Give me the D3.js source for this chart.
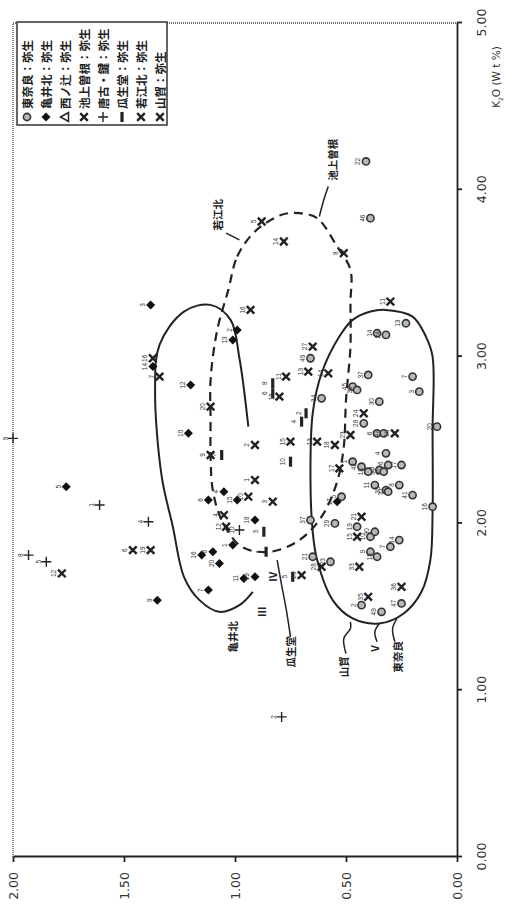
<!DOCTYPE html>
<html>
<head>
<meta charset="utf-8">
<script src="https://cdn.jsdelivr.net/npm/d3@7"></script>
<style>
  body { margin: 0; background: #fff; }
  .axis text { font-family: "DejaVu Sans", Verdana, sans-serif; font-size: 12.5px; fill: #333; }
  .axis path, .axis line { stroke: #222; stroke-width: 1.8; }
  .ptlabel { font-family: "Liberation Sans", Arial, sans-serif; font-size: 6.5px; fill: #333; }
  .area { font-family: "Noto Sans CJK JP", sans-serif; font-size: 10.5px; font-weight: bold; fill: #222; }
  .legend text { font-family: "Noto Sans CJK JP", sans-serif; font-size: 11.5px; font-weight: bold; fill: #222; }
</style>
</head>
<body>
<div id="chart"></div>
<script>
// chart is drawn in its own frame (K2O across, other oxide up) and turned 90deg
const width = 515;
const height = 906;

const kTicks = [0, 1, 2, 3, 4, 5];
const vTicks = [0, 0.5, 1, 1.5, 2];

// [K2O, value, label]
const higashinara = [
  [4.17,0.41,'22'],[3.83,0.39,'46'],[3.20,0.23,'13'],[3.14,0.36,'14'],[3.13,0.32,'24'],
  [2.99,0.66,'49'],[2.89,0.40,'37'],[2.88,0.20,'7'],[2.82,0.47,'45'],[2.80,0.45,'36'],
  [2.79,0.17,'3'],[2.75,0.61,'34'],[2.73,0.35,'30'],[2.60,0.42,'28'],[2.54,0.36,'6'],
  [2.54,0.33,'12'],[2.58,0.09,'20'],[2.37,0.47,'1'],[2.42,0.32,'4'],[2.35,0.31,'26'],
  [2.32,0.35,'43'],[2.31,0.33,'22'],[2.35,0.25,'17'],[2.34,0.43,'42'],[2.31,0.40,'18'],
  [2.23,0.37,'11'],[2.20,0.32,'35'],[2.19,0.31,'31'],[2.23,0.26,'8'],[2.17,0.20,'41'],
  [2.10,0.11,'16'],[2.16,0.52,'5'],[2.02,0.66,'37'],[2.00,0.55,'29'],[1.98,0.45,'19'],
  [1.92,0.39,'10'],[1.95,0.37,'30'],[1.90,0.26,'14'],[1.86,0.30,'7'],[1.83,0.39,'9'],
  [1.80,0.36,'15'],[1.80,0.65,'21'],[1.77,0.57,'23'],[1.51,0.43,'2'],[1.52,0.25,'47'],
  [1.47,0.34,'49']
];
const kameikita = [
  [3.31,1.38,'3'],[2.94,1.37,'14'],[3.16,0.99,'2'],[3.10,1.01,'13'],[2.83,1.20,'12'],
  [2.54,1.21,'10'],[2.22,1.76,'5'],[2.19,1.05,'4'],[2.14,1.12,'6'],[2.14,0.99,'15'],
  [2.02,0.91,'18'],[1.87,1.01,'1'],[1.81,1.15,'16'],[1.83,1.10,'8'],[1.76,1.07,'20'],
  [1.67,0.96,'11'],[1.68,0.91,'19'],[1.60,1.12,'7'],[1.54,1.35,'9'],[2.13,0.54,'17']
];
const nishinotsuji = [];
const ikegamisone = [
  [3.81,0.88,'5'],[3.69,0.78,'14'],[3.62,0.51,'8'],[3.33,0.30,'11'],[1.84,1.46,'6'],
  [1.84,1.38,'19'],[1.70,1.78,'12'],[2.99,1.37,'16'],[2.88,1.34,'7'],[3.28,0.93,'16']
];
const karakokagi = [
  [2.51,2.00,'9'],[2.11,1.61,'1'],[2.01,1.39,'4'],[1.81,1.93,'8'],[1.77,1.85,'5'],
  [0.84,0.79,'2'],[1.96,0.98,'10']
];
const uryudo = [
  [2.41,1.06,'7'],[2.37,0.75,'10'],[2.84,0.83,'8'],[2.78,0.83,'6'],[2.61,0.70,'4'],
  [2.66,0.68,'2'],[1.95,0.87,'3'],[1.83,0.86,'1'],[1.68,0.74,'5']
];
const wakaekita = [
  [2.70,1.11,'20'],[2.47,0.91,'2'],[2.49,0.75,'15'],[2.49,0.63,'13'],[2.41,1.11,'9'],
  [2.26,0.91,'1'],[2.16,0.94,'10'],[2.13,0.83,'3'],[2.05,1.05,'4'],[1.98,1.04,'12'],
  [2.88,0.77,'11'],[2.76,0.80,'15'],[2.91,0.67,'13'],[2.90,0.58,'14'],[3.06,0.65,'27']
];
const yamaga = [
  [2.66,0.42,'24'],[2.53,0.48,'23'],[2.54,0.28,'18'],[2.47,0.55,'18'],[2.33,0.53,'17'],
  [2.04,0.43,'21'],[1.92,0.45,'15'],[1.74,0.44,'33'],[1.56,0.40,'35'],[1.62,0.25,'36'],
  [1.74,0.61,'28'],[1.69,0.70,'20']
];

// outlines [K2O, value]
const kameiCurve = [
  [2.58,0.94],[2.99,0.98],[3.22,1.02],[3.31,1.11],[3.27,1.23],[3.07,1.34],[2.80,1.36],
  [2.28,1.33],[1.98,1.28],[1.68,1.23],[1.54,1.16],[1.47,1.07],[1.51,0.98],[1.59,0.92]
];
const wakaeLoop = [
  [3.40,1.03],[3.60,0.99],[3.75,0.91],[3.85,0.79],[3.86,0.71],[3.83,0.63],[3.66,0.54],
  [3.52,0.48],[3.32,0.48],[3.06,0.48],[2.74,0.50],[2.46,0.51],[2.25,0.54],[2.04,0.61],
  [1.90,0.71],[1.83,0.84],[1.86,0.97],[2.02,1.06],[2.20,1.10],[2.41,1.11],[2.62,1.11],
  [2.86,1.11],[3.16,1.08]
];
const eastLoop = [
  [2.90,0.61],[3.12,0.53],[3.22,0.47],[3.27,0.39],[3.28,0.32],[3.24,0.20],[3.12,0.14],
  [3.00,0.11],[2.56,0.11],[2.07,0.11],[1.78,0.12],[1.59,0.16],[1.46,0.24],[1.40,0.35],
  [1.43,0.47],[1.54,0.56],[1.78,0.63],[1.95,0.65],[2.26,0.66],[2.66,0.65]
];
const leaders = [
  [[1.32,0.75],[1.49,0.77],[1.63,0.79],[1.78,0.81]],
  [[1.22,0.50],[1.31,0.51],[1.37,0.48],[1.41,0.48]],
  [[1.29,0.36],[1.35,0.37],[1.40,0.35]],
  [[1.29,0.28],[1.37,0.29],[1.43,0.27]],
  [[3.74,1.04],[3.70,0.98]],
  [[4.02,0.58],[3.94,0.60],[3.84,0.62]]
];
const areaNames = ['亀井北', '瓜生堂', '山賀', 'V', '東奈良', '若江北', '池上曽根', 'III', 'IV'];
const areaAt = [[1.32,1.01],[1.23,0.75],[1.14,0.51],[1.25,0.37],[1.20,0.27],[3.85,1.08],[4.18,0.56],[1.47,0.88],[1.68,0.83]];

const series = [
  {name: '東奈良：弥生', type: 'circle', data: higashinara},
  {name: '亀井北：弥生', type: 'diamond', data: kameikita},
  {name: '西ノ辻：弥生', type: 'triangle', data: nishinotsuji},
  {name: '池上曽根：弥生', type: 'cross', data: ikegamisone},
  {name: '唐古・鍵：弥生', type: 'plus', data: karakokagi},
  {name: '瓜生堂：弥生', type: 'bar', data: uryudo},
  {name: '若江北：弥生', type: 'cross', data: wakaekita},
  {name: '山賀：弥生', type: 'cross', data: yamaga}
];

const svg = d3.select("#chart").append("svg")
    .attr("width", width)
    .attr("height", height);

const g = svg.append("g")
    .attr("transform", `translate(0,${height}) rotate(-90)`);

const x = d3.scaleLinear().domain([0, 5]).range([49, 883]);
const y = d3.scaleLinear().domain([0, 2]).range([457, 13]);

// dotted frame
g.append("path")
    .attr("d", `M${x(0)},${y(2)}H${x(5)}V${y(0)}`)
    .attr("fill", "none")
    .attr("stroke", "#444")
    .attr("stroke-width", 1.3)
    .attr("stroke-dasharray", "1,1");

g.append("g")
    .attr("class", "axis")
    .attr("transform", `translate(0,${y(0)})`)
    .call(d3.axisBottom(x).tickValues(kTicks).tickFormat(d3.format(".2f"))
      .tickSize(5).tickSizeOuter(0).tickPadding(15));

g.append("g")
    .attr("class", "axis")
    .attr("transform", `translate(${x(0)},0)`)
    .call(d3.axisLeft(y).tickValues(vTicks).tickFormat(d3.format(".2f"))
      .tickSize(5).tickSizeOuter(0).tickPadding(10));

const kLabel = g.append("text")
    .attr("x", 829)
    .attr("y", 500)
    .attr("text-anchor", "middle")
    .style("font-family", "'DejaVu Sans', sans-serif")
    .style("font-size", "10.5px")
    .style("fill", "#333");
kLabel.append("tspan").text("K");
kLabel.append("tspan").attr("dy", 3).style("font-size", "6px").text("2");
kLabel.append("tspan").attr("dy", -3).text("O (W t %)");

// outlines
const lineOpen = d3.line().x(d => x(d[0])).y(d => y(d[1])).curve(d3.curveCatmullRom);
const lineClosed = d3.line().x(d => x(d[0])).y(d => y(d[1])).curve(d3.curveCatmullRomClosed);

g.append("path").attr("d", lineOpen(kameiCurve))
    .attr("fill", "none").attr("stroke", "#222").attr("stroke-width", 2);
g.append("path").attr("d", lineClosed(eastLoop))
    .attr("fill", "none").attr("stroke", "#222").attr("stroke-width", 2);
g.append("path").attr("d", lineClosed(wakaeLoop))
    .attr("fill", "none").attr("stroke", "#222").attr("stroke-width", 2.2)
    .attr("stroke-dasharray", "9,6");

g.selectAll("path.leader")
    .data(leaders)
    .enter()
    .append("path")
    .attr("class", "leader")
    .attr("d", d => lineOpen(d))
    .attr("fill", "none")
    .attr("stroke", "#222")
    .attr("stroke-width", 1.5);

g.selectAll("text.area")
    .data(areaNames)
    .enter()
    .append("text")
    .attr("class", "area")
    .attr("x", (d, i) => x(areaAt[i][0]))
    .attr("y", (d, i) => y(areaAt[i][1]))
    .attr("text-anchor", "middle")
    .attr("dominant-baseline", "central")
    .text(d => d);

function drawSymbol(sel, type) {
  if (type === 'circle') {
    sel.append("circle").attr("r", 3.6)
      .attr("fill", "#b8b8b8").attr("stroke", "#333").attr("stroke-width", 1.6);
  } else if (type === 'diamond') {
    sel.append("path").attr("d", "M0,-4.5L4.5,0L0,4.5L-4.5,0Z").attr("fill", "#111");
  } else if (type === 'cross') {
    sel.append("path").attr("d", "M-3.8,-3.8L3.8,3.8M-3.8,3.8L3.8,-3.8")
      .attr("stroke", "#222").attr("stroke-width", 2.4);
  } else if (type === 'plus') {
    sel.append("path").attr("d", "M-5,0H5M0,-5V5")
      .attr("stroke", "#222").attr("stroke-width", 1.4);
  } else if (type === 'bar') {
    sel.append("rect").attr("x", -5).attr("y", -1.6).attr("width", 10).attr("height", 3.2)
      .attr("fill", "#222");
  } else if (type === 'triangle') {
    sel.append("path").attr("d", "M0,-4.5L4.5,3.5H-4.5Z")
      .attr("fill", "none").attr("stroke", "#222").attr("stroke-width", 1.5);
  }
}

// points
series.forEach(s => {
  const pts = g.selectAll(null)
      .data(s.data)
      .enter()
      .append("g")
      .attr("transform", d => `translate(${x(d[0])},${y(d[1])})`);
  pts.each(function() { drawSymbol(d3.select(this), s.type); });
  pts.append("text")
      .attr("class", "ptlabel")
      .attr("y", -8)
      .attr("text-anchor", "middle")
      .attr("dominant-baseline", "central")
      .text(d => d[2]);
});

// legend
const legend = g.append("g").attr("class", "legend");
legend.append("rect")
    .attr("x", 781).attr("y", 17)
    .attr("width", 103).attr("height", 150)
    .attr("fill", "#fff").attr("stroke", "#333").attr("stroke-width", 1.5);

const items = legend.selectAll("g.item")
    .data(series)
    .enter()
    .append("g")
    .attr("class", "item")
    .attr("transform", (d, i) => `translate(789,${27 + i * 19})`);
items.each(function(d) { drawSymbol(d3.select(this), d.type); });
items.append("text")
    .attr("x", 8)
    .attr("dominant-baseline", "central")
    .text(d => d.name);
</script>
</body>
</html>
